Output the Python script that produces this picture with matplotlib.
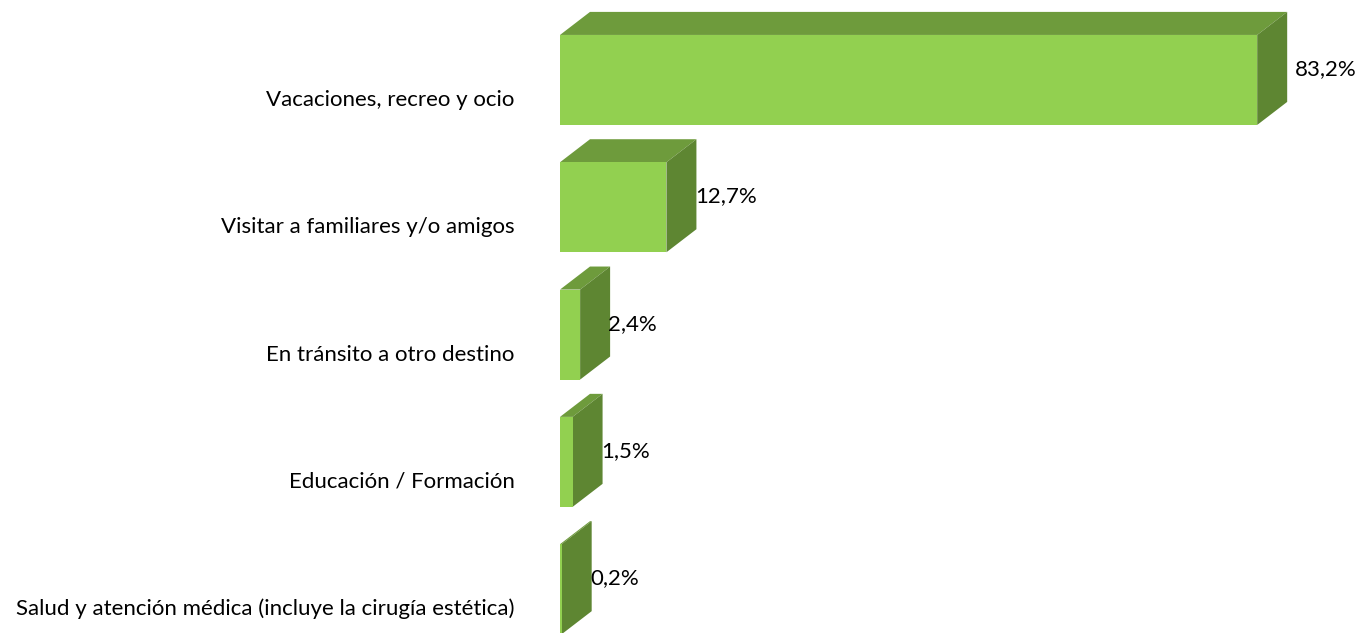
import matplotlib.pyplot as plt
from matplotlib.patches import Polygon

# datos del grafico
categorias = [
    "Vacaciones, recreo y ocio",
    "Visitar a familiares y/o amigos",
    "En tránsito a otro destino",
    "Educación / Formación",
    "Salud y atención médica (incluye la cirugía estética)",
]
valores = [83.2, 12.7, 2.4, 1.5, 0.2]
etiquetas = ["83,2%", "12,7%", "2,4%", "1,5%", "0,2%"]

COLOR_FRENTE = "#92D050"
COLOR_ARRIBA = "#6E9B3C"
COLOR_LADO = "#5E8632"

plt.rcParams["font.family"] = ["Lato", "DejaVu Sans"]

fig = plt.figure(figsize=(13.6, 6.33), dpi=100)
ax = fig.add_axes([0, 0, 1, 1])
ax.set_xlim(-66.83, 95.47)
ax.set_ylim(4.344, -0.628)
ax.axis("off")

alto = 0.707  # alto de la cara frontal
prof_x = 3.58  # profundidad en x
prof_y = -0.181  # profundidad en y (hacia arriba)

for i, (cat, val, txt) in enumerate(zip(categorias, valores, etiquetas)):
    y0 = i - alto / 2
    y1 = i + alto / 2
    # cara de arriba
    arriba = [(0, y0), (val, y0), (val + prof_x, y0 + prof_y), (prof_x, y0 + prof_y)]
    ax.add_patch(Polygon(arriba, closed=True, facecolor=COLOR_ARRIBA, edgecolor="none"))
    # cara lateral
    lado = [(val, y0), (val, y1), (val + prof_x, y1 + prof_y), (val + prof_x, y0 + prof_y)]
    ax.add_patch(Polygon(lado, closed=True, facecolor=COLOR_LADO, edgecolor="none"))
    # cara frontal
    frente = [(0, y0), (val, y0), (val, y1), (0, y1)]
    ax.add_patch(Polygon(frente, closed=True, facecolor=COLOR_FRENTE, edgecolor="none"))

    gap = 0.9 if i == 0 else -0.2
    ax.text(val + prof_x + gap, i + prof_y / 2 + 0.005, txt, ha="left", va="center", fontsize=16)
    ax.text(-5.4, i + 0.157, cat, ha="right", va="center", fontsize=16)

fig.savefig("out.png", dpi=100)
